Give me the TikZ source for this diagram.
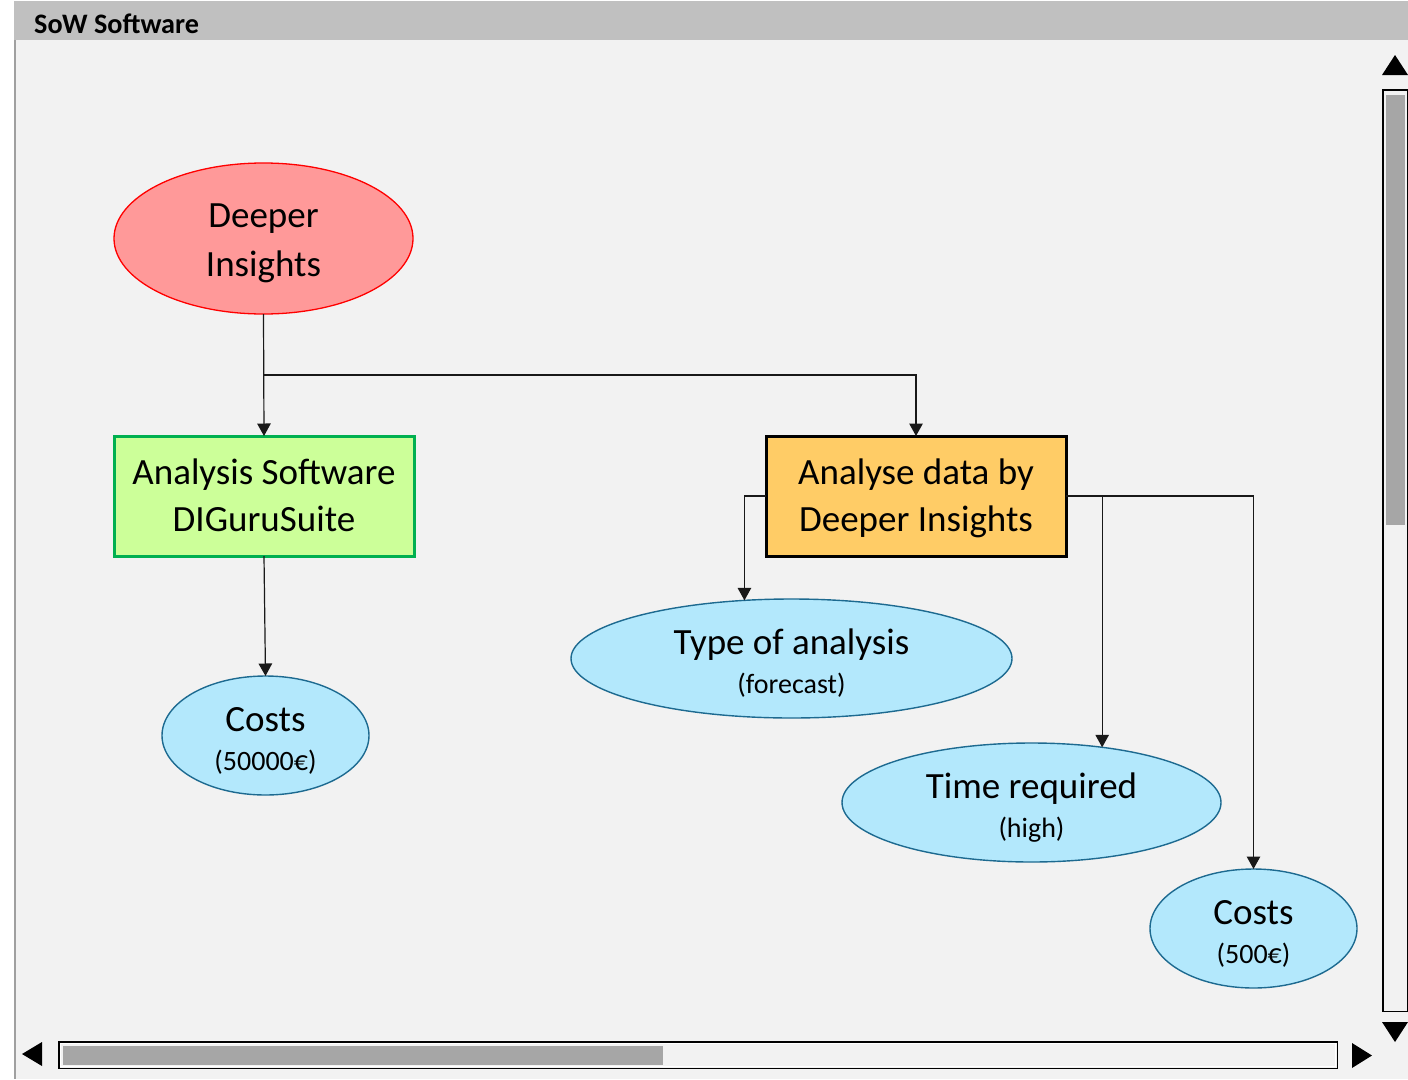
\documentclass[tikz,border=0pt]{standalone}
\usepackage{fontspec}
\setmainfont{Carlito}
\usetikzlibrary{arrows.meta,shapes.geometric}

\definecolor{panelbg}{HTML}{F2F2F2}
\definecolor{titlebar}{HTML}{C0C0C0}
\definecolor{edgegray}{HTML}{A0A0A0}
\definecolor{thumbgray}{HTML}{A6A6A6}
\definecolor{rootfill}{HTML}{FF9999}
\definecolor{rootdraw}{HTML}{FF0000}
\definecolor{swfill}{HTML}{CCFF99}
\definecolor{swdraw}{HTML}{00B050}
\definecolor{actfill}{HTML}{FFCC66}
\definecolor{attrfill}{HTML}{B3E8FC}
\definecolor{attrdraw}{HTML}{1D6A90}

\tikzset{
  rootell/.style={ellipse, draw=rootdraw, fill=rootfill, line width=1.3pt,
    inner sep=0pt, outer sep=0pt},
  attrell/.style={ellipse, draw=attrdraw, fill=attrfill, line width=1.4pt,
    inner sep=0pt, outer sep=0pt, minimum height=119pt},
  swbox/.style={rectangle, draw=swdraw, fill=swfill, line width=3pt,
    inner sep=0pt, outer sep=0pt, minimum width=300pt, minimum height=120pt},
  actbox/.style={rectangle, draw=black, fill=actfill, line width=3pt,
    inner sep=0pt, outer sep=0pt, minimum width=300pt, minimum height=120pt},
  bigtxt/.style={inner sep=0pt, anchor=base, font=\fontsize{37}{44}\selectfont},
  smalltxt/.style={inner sep=0pt, anchor=base, font=\fontsize{28}{33}\selectfont},
  link/.style={draw=black!90, line width=1.2pt,
    -{Triangle[length=12.5pt,width=13.5pt]}},
}

\begin{document}
\begin{tikzpicture}[x=1pt,y=-1pt]
\useasboundingbox (0,0) rectangle (1408,1079);

% window frame
\fill[white] (0,0) rectangle (1408,1079);
\fill[panelbg] (14,40) rectangle (1408,1079);
\fill[titlebar] (14,1) rectangle (1408,40);
\draw[edgegray, line width=2pt] (15,40) -- (15,1079);
\node[inner sep=0pt, anchor=base west,
  font=\bfseries\fontsize{28.2}{32}\selectfont] (title) at (34,33.5) {SoW Software};

% vertical scroll bar
\draw[black, line width=1.5pt, fill=panelbg] (1382.75,89.75) rectangle (1407.5,1011.25);
\fill[thumbgray] (1385.5,95) rectangle (1405,525);
\fill[black] (1382,75) -- (1408,75) -- (1395,55) -- cycle;
\fill[black] (1382,1022) -- (1408,1022) -- (1395,1042) -- cycle;

% horizontal scroll bar
\draw[black, line width=1.5pt, fill=panelbg] (58.75,1041.75) rectangle (1337.25,1068.25);
\draw[white, line width=1pt] (60.5,1043.5) rectangle (1335.5,1066.5);
\fill[thumbgray] (63,1046) rectangle (663,1064.5);
\fill[black] (42,1042) -- (42,1066) -- (22,1054) -- cycle;
\fill[black] (1352,1043) -- (1352,1068) -- (1372,1055.5) -- cycle;

% shapes
\node[rootell, minimum width=299pt, minimum height=151pt] (deeper) at (263.5,238.5) {};
\node[swbox] (asw) at (264,496) {};
\node[actbox] (adi) at (916,496) {};
\node[attrell, minimum width=207pt] (costsL) at (265.5,735.5) {};
\node[attrell, minimum width=441pt] (type) at (791.5,658.5) {};
\node[attrell, minimum width=379pt] (time) at (1031.5,802.5) {};
\node[attrell, minimum width=207pt] (costsR) at (1253.5,928.5) {};

% texts
\node[bigtxt] (deeperA) at (263.5,227.5) {Deeper};
\node[bigtxt] (deeperB) at (263.5,276.5) {Insights};
\node[bigtxt] (aswA) at (264,484.5) {Analysis Software};
\node[bigtxt] (aswB) at (264,531.5) {DIGuruSuite};
\node[bigtxt] (adiA) at (916,484.5) {Analyse data by};
\node[bigtxt] (adiB) at (916,531.5) {Deeper Insights};
\node[bigtxt] (costsLA) at (265.5,731) {Costs};
\node[smalltxt] (costsLB) at (265.5,770) {(50000€)};
\node[bigtxt] (typeA) at (791.5,654) {Type of analysis};
\node[smalltxt] (typeB) at (791.5,693) {(forecast)};
\node[bigtxt] (timeA) at (1031.5,798) {Time required};
\node[smalltxt] (timeB) at (1031.5,837) {(high)};
\node[bigtxt] (costsRA) at (1253.5,924) {Costs};
\node[smalltxt] (costsRB) at (1253.5,963) {(500€)};

% connectors
\coordinate (split) at (263.5,375);
\draw[link] (deeper.south) -- (asw.north);
\draw[link] (split) -| (adi.north);
\draw[link] (asw.south) -- (costsL.north);
\draw[link] (adi.west) -| (type.129.9);
\draw[link] (adi.east) -| (time.38.5);
\draw[link] (adi.east) -| (costsR.north);
\end{tikzpicture}
\end{document}
